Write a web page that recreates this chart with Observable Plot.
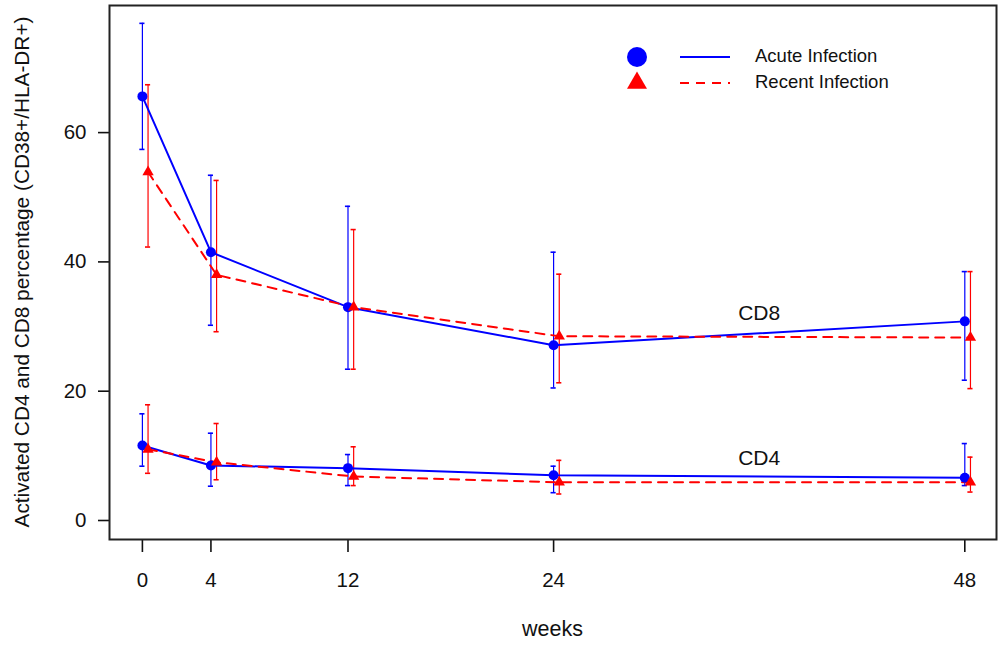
<!DOCTYPE html>
<html>
<head>
<meta charset="utf-8">
<script src="https://cdn.jsdelivr.net/npm/d3@7"></script>
<script src="https://cdn.jsdelivr.net/npm/@observablehq/plot@0.6"></script>
<style>
  html, body { margin: 0; padding: 0; background: #fff; }
  #chart { width: 1000px; height: 646px; }
  #chart svg g[aria-label="x-axis tick label"] text,
  #chart svg g[aria-label="y-axis tick label"] text { font-size: 20.5px !important; }
</style>
</head>
<body>
<div id="chart"></div>
<script>
// ---- data ----
const weeks = [0, 4, 12, 24, 48];
const acuteCD8   = [65.6, 41.5, 33.0, 27.1, 30.8];
const acuteCD8Lo = [57.4, 30.2, 23.4, 20.5, 21.7];
const acuteCD8Hi = [76.9, 53.4, 48.6, 41.5, 38.5];
const recentCD8   = [53.9, 38.0, 33.0, 28.5, 28.3];
const recentCD8Lo = [42.3, 29.2, 23.4, 21.3, 20.4];
const recentCD8Hi = [67.4, 52.6, 45.0, 38.1, 38.5];
const acuteCD4   = [11.6, 8.5, 8.1, 7.0, 6.6];
const acuteCD4Lo = [8.4, 5.3, 5.4, 4.3, 5.4];
const acuteCD4Hi = [16.5, 13.5, 10.2, 8.4, 11.9];
const recentCD4   = [11.0, 9.0, 6.8, 5.9, 5.9];
const recentCD4Lo = [7.3, 6.3, 5.4, 4.1, 4.4];
const recentCD4Hi = [17.9, 15.0, 11.4, 9.3, 9.8];
const yTicks = [0, 20, 40, 60];
const seriesNames = ["Acute Infection", "Recent Infection"];
const cellLabels = ["CD8", "CD4"];
const cellLabelWeek = [36, 36];
const cellLabelValue = [32.0, 9.6];
const recentOffset = 0.33; // recent series drawn slightly right of the week

const BLUE = "#0000ff", RED = "#ff0000";
const FONT = "'Liberation Sans', Arial, Helvetica, sans-serif";
const FS = 20.5;

function rows(vals, lo, hi, off) {
  return weeks.map((w, i) => ({x: w + off, v: vals[i], lo: lo[i], hi: hi[i]}));
}
const aCD8 = rows(acuteCD8, acuteCD8Lo, acuteCD8Hi, 0);
const rCD8 = rows(recentCD8, recentCD8Lo, recentCD8Hi, recentOffset);
const aCD4 = rows(acuteCD4, acuteCD4Lo, acuteCD4Hi, 0);
const rCD4 = rows(recentCD4, recentCD4Lo, recentCD4Hi, recentOffset);
const labels = cellLabels.map((t, i) => ({t, x: cellLabelWeek[i], y: cellLabelValue[i]}));

const capHalf = 0.15;
function errMarks(data, color) {
  return [
    Plot.ruleX(data, {x: "x", y1: "lo", y2: "hi", stroke: color, strokeWidth: 1.2}),
    Plot.ruleY(data, {x1: d => d.x - capHalf, x2: d => d.x + capHalf, y: "hi", stroke: color, strokeWidth: 1.6}),
    Plot.ruleY(data, {x1: d => d.x - capHalf, x2: d => d.x + capHalf, y: "lo", stroke: color, strokeWidth: 1.6})
  ];
}

const W = 1000, H = 646;
const plot = Plot.plot({
  width: W, height: H,
  marginLeft: 109, marginRight: 4, marginTop: 5, marginBottom: 107,
  style: {fontFamily: FONT, fontSize: FS + "px", color: "#111", background: "#fff"},
  x: {domain: [-1.92, 49.85]},
  y: {domain: [-2.94, 79.66]},
  marks: [
    Plot.axisX(weeks, {tickSize: 13, tickPadding: 20, label: null, fontSize: FS, tickFormat: d => String(d), stroke: "#111", strokeWidth: 1.6}),
    Plot.axisY(yTicks, {tickSize: 11, tickPadding: 12, label: null, fontSize: FS, tickFormat: d => String(d), stroke: "#111", strokeWidth: 1.6}),
    ...errMarks(aCD8, BLUE), ...errMarks(aCD4, BLUE),
    ...errMarks(rCD8, RED), ...errMarks(rCD4, RED),
    Plot.line(aCD8, {x: "x", y: "v", stroke: BLUE, strokeWidth: 2}),
    Plot.line(aCD4, {x: "x", y: "v", stroke: BLUE, strokeWidth: 2}),
    Plot.line(rCD8, {x: "x", y: "v", stroke: RED, strokeWidth: 2, strokeDasharray: "9,7"}),
    Plot.line(rCD4, {x: "x", y: "v", stroke: RED, strokeWidth: 2, strokeDasharray: "9,7"}),
    Plot.dot(aCD8, {x: "x", y: "v", r: 5, fill: BLUE, symbol: "circle"}),
    Plot.dot(aCD4, {x: "x", y: "v", r: 5, fill: BLUE, symbol: "circle"}),
    Plot.dot(rCD8, {x: "x", y: "v", r: 4.2, fill: RED, symbol: "triangle"}),
    Plot.dot(rCD4, {x: "x", y: "v", r: 4.2, fill: RED, symbol: "triangle"}),
    Plot.text(labels, {x: "x", y: "y", text: "t", fontSize: 21, fill: "#111"}),
    Plot.frame({stroke: "#222", strokeWidth: 2})
  ]
});
document.getElementById("chart").appendChild(plot);

const svg = d3.select(plot);
svg.selectAll("g[aria-label='x-axis tick label'], g[aria-label='y-axis tick label']")
  .attr("font-size", FS).style("font-size", FS + "px");

// axis titles
svg.append("text")
  .attr("x", (109 + 996) / 2).attr("y", 630)
  .attr("text-anchor", "middle").attr("dominant-baseline", "middle")
  .style("font-family", FONT).style("font-size", "21.5px").attr("fill", "#111")
  .text("weeks");
svg.append("text")
  .attr("transform", "translate(23,272) rotate(-90)")
  .attr("text-anchor", "middle").attr("dominant-baseline", "middle")
  .style("font-family", FONT).style("font-size", "20.8px").attr("fill", "#111")
  .text("Activated CD4 and CD8 percentage (CD38+/HLA-DR+)");

// legend
const lg = svg.append("g");
const legendRows = [
  {name: seriesNames[0], color: BLUE, sym: d3.symbolCircle, size: Math.PI * 100, dash: null, y: 57},
  {name: seriesNames[1], color: RED, sym: d3.symbolTriangle, size: 173, dash: "9,7", y: 83}
];
legendRows.forEach(r => {
  lg.append("path").attr("d", d3.symbol(r.sym, r.size)()).attr("transform", `translate(637,${r.y})`).attr("fill", r.color);
  lg.append("line").attr("x1", 680).attr("x2", 730).attr("y1", r.y).attr("y2", r.y)
    .attr("stroke", r.color).attr("stroke-width", 2).attr("stroke-dasharray", r.dash);
  lg.append("text").attr("x", 755).attr("y", r.y).attr("dominant-baseline", "middle")
    .attr("text-anchor", "start")
    .style("font-family", FONT).style("font-size", "18.5px").attr("fill", "#111").text(r.name);
});
</script>
</body>
</html>
